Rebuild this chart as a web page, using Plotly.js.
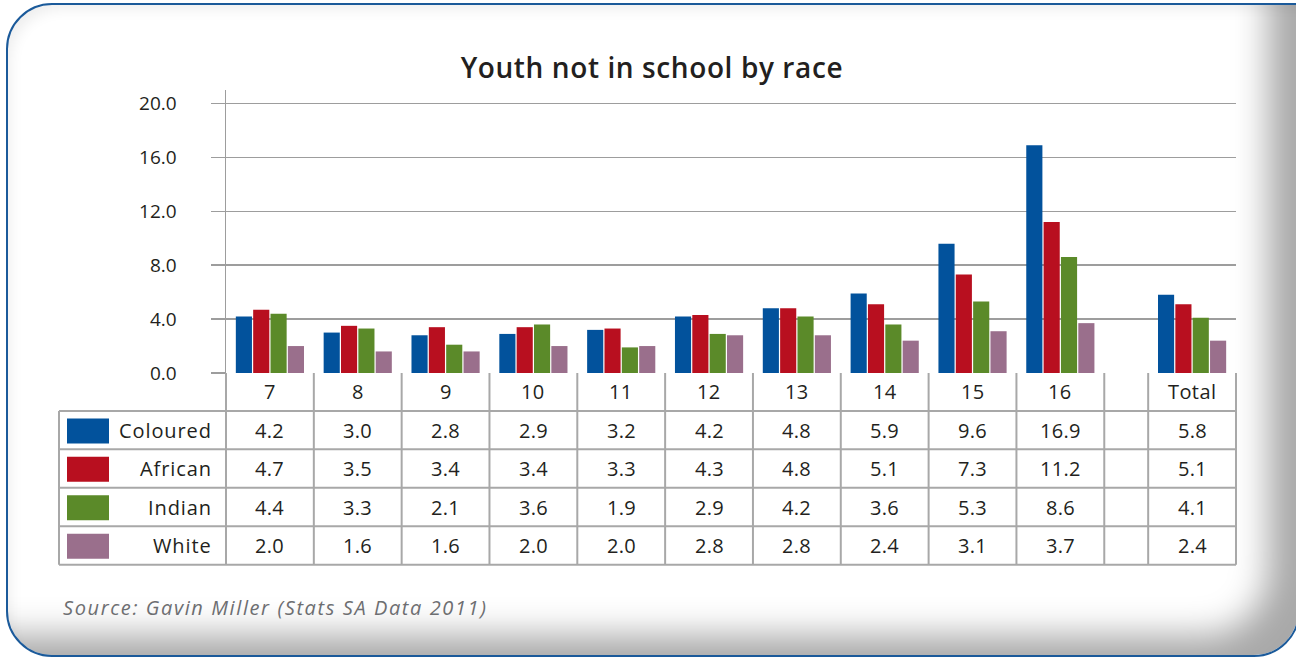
<!DOCTYPE html>
<html>
<head>
<meta charset="utf-8">
<script src="https://cdn.plot.ly/plotly-3.0.1.min.js"></script>
<style>
  html, body { margin: 0; padding: 0; background: #ffffff; }
  #wrap { position: relative; width: 1296px; height: 659px; overflow: hidden; background: #ffffff; }
  #frame {
    position: absolute; left: 6px; top: 3px; width: 1290px; height: 650px;
    border: 2px solid #1b5a9a; border-radius: 46px 0 46px 46px;
    box-shadow: inset -50px -40px 34px -20px rgba(0,0,0,0.34), inset 10px 12px 14px -8px rgba(0,0,0,0.07);
    background: #ffffff;
  }
  #chart { position: absolute; left: 0; top: 0; width: 1296px; height: 659px; }
</style>
</head>
<body>
<div id="wrap">
  <div id="frame"></div>
  <div id="chart"></div>
</div>
<script>
// ---- data ----
const categories = ['7', '8', '9', '10', '11', '12', '13', '14', '15', '16', 'Total'];
const seriesNames = ['Coloured', 'African', 'Indian', 'White'];
const coloured = [4.2, 3.0, 2.8, 2.9, 3.2, 4.2, 4.8, 5.9, 9.6, 16.9, 5.8];
const african  = [4.7, 3.5, 3.4, 3.4, 3.3, 4.3, 4.8, 5.1, 7.3, 11.2, 5.1];
const indian   = [4.4, 3.3, 2.1, 3.6, 1.9, 2.9, 4.2, 3.6, 5.3, 8.6, 4.1];
const white    = [2.0, 1.6, 1.6, 2.0, 2.0, 2.8, 2.8, 2.4, 3.1, 3.7, 2.4];
const yTicks = [0, 4, 8, 12, 16, 20];
const yTickLabels = ['0.0', '4.0', '8.0', '12.0', '16.0', '20.0'];
const titleText = 'Youth not in school by race';
const sourceText = 'Source: Gavin Miller (Stats SA Data 2011)';

// ---- styling ----
const colors = ['#02529c', '#b80f1f', '#5b8a29', '#9a6f8c'];
const FONT = '"Open Sans", "DejaVu Sans", sans-serif';
const TXT = '#231f20';
const LINE = '#a8a8a8';
const values = [coloured, african, indian, white];
const spaced = (t, ls) => '<span style="letter-spacing:' + ls + 'px">' + t + '</span>';

// position of each category on a numeric axis; a half-width empty column sits before "Total"
const xPos = categories.map((c, i) => c === 'Total' ? i + 0.5 : i);
const xMin = -0.5, xMax = xPos[xPos.length - 1] + 0.5;

const W = 1296, H = 659;
const mL = 226, mR = 60, mT = 89.5, mB = 286;
const plotW = W - mL - mR, plotH = H - mT - mB;
const pxX = px => (px - mL) / plotW;            // pixel -> paper x
const pxY = py => (H - mB - py) / plotH;        // pixel -> paper y
const valX = v => (v - xMin) / (xMax - xMin);   // axis value -> paper x

const traces = seriesNames.map((name, k) => ({
  type: 'bar', name: name, x: xPos, y: values[k],
  marker: { color: colors[k], line: { width: 0 } },
  hoverinfo: 'skip'
}));

// ---- table (lines + text) ----
const shapes = [];
const annotations = [];
const rowTop = 373, headerBottom = 411, rowH = 38.5;
const tableBottom = headerBottom + rowH * 4;
const tableLeft = 59;

// column boundaries
const bounds = xPos.map(p => p - 0.5);
bounds.push(xMax);
bounds.push(xPos[xPos.length - 1] - 1); // start of the empty column
bounds.forEach(b => {
  shapes.push({ type: 'line', xref: 'paper', yref: 'paper',
    x0: valX(b), x1: valX(b), y0: pxY(rowTop), y1: pxY(tableBottom),
    line: { color: LINE, width: 2 } });
});
// horizontal lines
for (let r = 0; r <= 4; r++) {
  const py = headerBottom + r * rowH;
  shapes.push({ type: 'line', xref: 'paper', yref: 'paper',
    x0: pxX(tableLeft), x1: valX(xMax), y0: pxY(py), y1: pxY(py),
    line: { color: LINE, width: 2 } });
}
// left border
shapes.push({ type: 'line', xref: 'paper', yref: 'paper',
  x0: pxX(tableLeft), x1: pxX(tableLeft), y0: pxY(headerBottom), y1: pxY(tableBottom),
  line: { color: LINE, width: 2 } });

// header labels
categories.forEach((c, i) => {
  annotations.push({ xref: 'paper', yref: 'paper', x: valX(xPos[i]), y: pxY((rowTop + headerBottom) / 2),
    text: spaced(c, 0.4), showarrow: false, xanchor: 'center', yanchor: 'middle',
    font: { family: FONT, size: 20, color: TXT } });
});
// rows
seriesNames.forEach((name, k) => {
  const top = headerBottom + k * rowH;
  const mid = top + rowH / 2;
  shapes.push({ type: 'rect', xref: 'paper', yref: 'paper',
    x0: pxX(67), x1: pxX(109), y0: pxY(top + 7.5), y1: pxY(top + rowH - 6),
    fillcolor: colors[k], line: { width: 0 } });
  annotations.push({ xref: 'paper', yref: 'paper', x: pxX(214), y: pxY(mid),
    text: spaced(name, 0.9), showarrow: false, xanchor: 'right', yanchor: 'middle',
    font: { family: FONT, size: 20, color: TXT } });
  values[k].forEach((v, i) => {
    annotations.push({ xref: 'paper', yref: 'paper', x: valX(xPos[i]), y: pxY(mid),
      text: spaced(v.toFixed(1), 0.3), showarrow: false, xanchor: 'center', yanchor: 'middle',
      font: { family: FONT, size: 20, color: TXT } });
  });
});

// source
annotations.push({ xref: 'paper', yref: 'paper', x: pxX(61), y: pxY(608),
  text: '<i>' + spaced(sourceText, 1.6) + '</i>', showarrow: false, xanchor: 'left', yanchor: 'middle',
  font: { family: FONT, size: 20, color: '#6d6e71' } });

const layout = {
  width: W, height: H,
  margin: { l: mL, r: mR, t: mT, b: mB, pad: 0 },
  paper_bgcolor: 'rgba(0,0,0,0)', plot_bgcolor: 'rgba(0,0,0,0)',
  showlegend: false,
  barmode: 'group', bargap: 0.21, bargroupgap: 0.07,
  title: { text: spaced(titleText, 0.6), x: 0.503, xanchor: 'center', y: 1 - 68 / H, yanchor: 'middle',
    font: { family: FONT, size: 28, color: TXT, weight: 600 } },
  xaxis: { range: [xMin, xMax], showgrid: false, zeroline: false, showticklabels: false,
    ticks: '', showline: false, fixedrange: true },
  yaxis: { range: [0, 21], tickvals: yTicks, ticktext: yTickLabels,
    showgrid: true, gridcolor: '#9d9d9d', gridwidth: 1.5,
    zeroline: false, showline: true, linecolor: '#9d9d9d', linewidth: 1.5,
    ticks: 'outside', ticklen: 14, tickcolor: '#9d9d9d', tickwidth: 1.5,
    ticklabelstandoff: 30,
    tickfont: { family: FONT, size: 19, color: TXT }, fixedrange: true },
  shapes: shapes,
  annotations: annotations
};

Plotly.newPlot('chart', traces, layout, { staticPlot: true, displayModeBar: false });
</script>
</body>
</html>
